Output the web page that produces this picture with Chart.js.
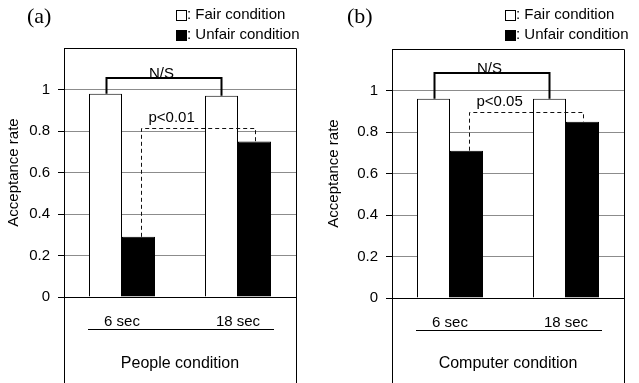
<!DOCTYPE html>
<html lang="en">
<head>
  <meta charset="UTF-8">
  <title>Acceptance rate</title>
  <script src="https://cdn.jsdelivr.net/npm/chart.js"></script>
  <style>
    body { margin: 0; background: #fff; }
    .panel { position: absolute; top: 0; }
  </style>
</head>
<body>
  <canvas id="chartA" class="panel" width="320" height="383" style="left:0"></canvas>
  <canvas id="chartB" class="panel" width="319" height="383" style="left:320px"></canvas>

  <script>
    // values
    const categories = ['6 sec', '18 sec'];
    const fairPeople = [0.98, 0.97];
    const unfairPeople = [0.29, 0.75];
    const fairComputer = [0.96, 0.96];
    const unfairComputer = [0.71, 0.85];
    const yTicks = [0, 0.2, 0.4, 0.6, 0.8, 1];

    Chart.defaults.font.family = "'Liberation Sans', Arial, sans-serif";
    Chart.defaults.color = '#000';

    // brackets, legend, panel letter and the open box around the plot
    function annotations(p) {
      return {
        id: 'annot',
        afterDraw(chart) {
          const { ctx, chartArea: a, scales: { y } } = chart;
          const fair = chart.getDatasetMeta(0).data;
          const unfair = chart.getDatasetMeta(1).data;
          const L = Math.round(a.left) + 0.5, R = Math.round(a.right) + 0.5, T = Math.round(a.top) + 0.5;
          ctx.save();
          ctx.strokeStyle = '#000';
          ctx.lineWidth = 1;
          ctx.beginPath();
          ctx.moveTo(L, chart.height);
          ctx.lineTo(L, T);
          ctx.lineTo(R, T);
          ctx.lineTo(R, chart.height);
          ctx.stroke();

          // N/S bracket
          const yN = Math.round(y.getPixelForValue(p.nsLevel));
          ctx.lineWidth = 2;
          ctx.beginPath();
          ctx.moveTo(fair[0].x + 1, fair[0].y);
          ctx.lineTo(fair[0].x + 1, yN);
          ctx.lineTo(fair[1].x, yN);
          ctx.lineTo(fair[1].x, fair[1].y);
          ctx.stroke();
          ctx.font = "15px 'Liberation Sans', Arial";
          ctx.fillStyle = '#000';
          ctx.textAlign = 'center';
          ctx.textBaseline = 'alphabetic';
          ctx.fillText('N/S', (fair[0].x + fair[1].x) / 2 - 2, yN);

          // p bracket (dashed)
          const yP = Math.round(y.getPixelForValue(p.pLevel)) + 0.5;
          const x0 = Math.round(unfair[0].x) + 2.5, x1 = Math.round(unfair[1].x) + 0.5;
          ctx.lineWidth = 1;
          ctx.strokeStyle = '#111';
          ctx.setLineDash([4, 3]);
          ctx.beginPath();
          ctx.moveTo(x0, unfair[0].y);
          ctx.lineTo(x0, yP);
          ctx.lineTo(x1, yP);
          ctx.lineTo(x1, unfair[1].y);
          ctx.stroke();
          ctx.setLineDash([]);
          ctx.textAlign = 'left';
          ctx.fillText(p.pText, x0 + 7, yP - 7);

          // line under the category labels
          const yU = Math.round(a.bottom) + 32.5;
          ctx.strokeStyle = '#000';
          ctx.beginPath();
          ctx.moveTo(fair[0].x - fair[0].width / 2 - 1, yU);
          ctx.lineTo(unfair[1].x + unfair[1].width / 2 + 3, yU);
          ctx.stroke();

          // legend
          ctx.textBaseline = 'middle';
          ctx.strokeRect(p.legendX + 0.5, 10.5, 10, 10);
          ctx.fillText(': Fair condition', p.legendX + 11, 15);
          ctx.fillRect(p.legendX, 30, 11, 11);
          ctx.fillText(': Unfair condition', p.legendX + 11, 35);

          // panel letter
          ctx.font = "22px 'Liberation Serif', 'Times New Roman', serif";
          ctx.textBaseline = 'alphabetic';
          ctx.fillText(p.letter, 27, 23);
          ctx.restore();
        }
      };
    }

    function makeChart(id, fair, unfair, p) {
      return new Chart(document.getElementById(id), {
        type: 'bar',
        data: {
          labels: categories,
          datasets: [
            { label: 'Fair condition', data: fair, backgroundColor: '#fff', borderColor: '#000', borderWidth: 1 },
            { label: 'Unfair condition', data: unfair, backgroundColor: '#000', borderColor: '#000', borderWidth: 1 }
          ]
        },
        options: {
          responsive: false,
          animation: false,
          devicePixelRatio: 1,
          datasets: { bar: { categoryPercentage: 66 / 116, barPercentage: 1 } },
          layout: { padding: { left: 0, right: p.padRight, top: p.padTop, bottom: 0 } },
          plugins: { legend: { display: false }, tooltip: { enabled: false } },
          scales: {
            x: {
              grid: { display: false, drawTicks: false },
              border: { display: true, color: '#000' },
              ticks: { padding: 16, font: { size: 15 } },
              title: { display: true, text: p.xTitle, font: { size: 16 }, padding: { top: 0, bottom: 10 } },
              afterFit: s => { s.height = p.xHeight; }
            },
            y: {
              min: 0,
              max: 1.2,
              afterBuildTicks: s => { s.ticks = yTicks.concat(1.2).map(v => ({ value: v })); },
              ticks: { padding: 8, font: { size: 15 }, callback: v => v > 1.1 ? '' : String(v) },
              grid: {
                color: c => (c.tick.value === 0 || c.tick.value > 1.1) ? '#000' : '#8c8c8c',
                tickLength: 6,
                tickColor: c => c.tick.value > 1.1 ? 'rgba(0,0,0,0)' : '#000'
              },
              border: { color: '#000' },
              title: { display: true, text: 'Acceptance rate', font: { size: 15 }, padding: { top: 5, bottom: 0 } },
              afterFit: s => { s.width = p.yWidth; }
            }
          }
        },
        plugins: [annotations(p)]
      });
    }

    makeChart('chartA', fairPeople, unfairPeople, {
      letter: '(a)', xTitle: 'People condition', legendX: 176,
      yWidth: 64, padRight: 24, padTop: 48, xHeight: 86,
      nsLevel: 1.055, pLevel: 0.815, pText: 'p<0.01'
    });
    makeChart('chartB', fairComputer, unfairComputer, {
      letter: '(b)', xTitle: 'Computer condition', legendX: 185,
      yWidth: 72, padRight: 15, padTop: 49, xHeight: 85,
      nsLevel: 1.085, pLevel: 0.895, pText: 'p<0.05'
    });
  </script>
</body>
</html>
